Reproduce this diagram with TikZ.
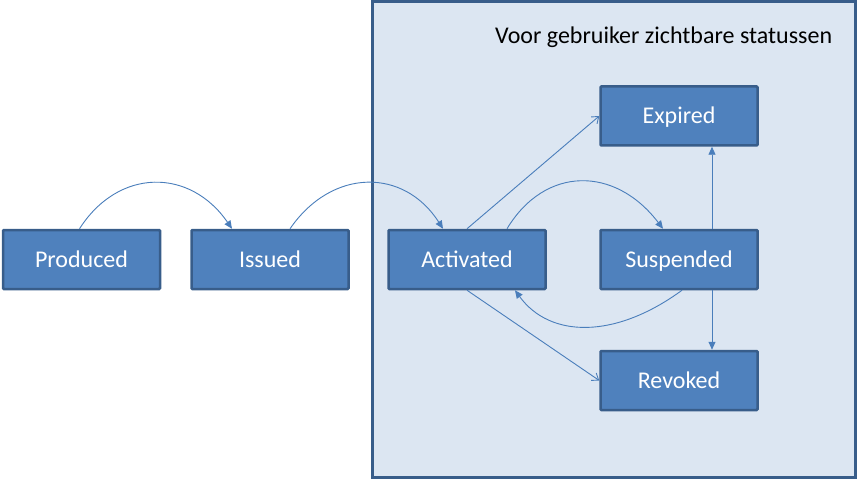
\documentclass[tikz,border=0pt]{standalone}
\usepackage{fontspec}
\setmainfont{Carlito}
\usetikzlibrary{arrows.meta}
\definecolor{boxfill}{HTML}{4F81BD}
\definecolor{boxline}{HTML}{385D8A}
\definecolor{groupfill}{HTML}{DCE6F2}
\definecolor{arrowcol}{HTML}{4A7EBB}
\tikzset{
  statebox/.style={draw=boxline, fill=boxfill, line width=2.5pt, rounded corners=1pt,
    minimum width=157pt, minimum height=59pt, inner sep=0pt, text=white,
    text height=15.5pt, text depth=0pt,
    font=\fontsize{24}{28}\selectfont},
  groupbox/.style={draw=boxline, fill=groupfill, line width=3pt, inner sep=0pt,
    minimum width=483pt, minimum height=475pt},
  conn/.style={draw=arrowcol, line width=0.9pt},
  solidtip/.style={conn, -{Triangle[length=8pt,width=7pt]}},
  opentip/.style={conn, -{Straight Barb[length=6pt,width=9pt]}},
}
\begin{document}
\begin{tikzpicture}[x=1pt,y=-1pt]
\useasboundingbox (0,0) rectangle (859,481);
\node[groupbox] (group) at (613.5,239.5) {};
\node[font=\fontsize{24}{28}\selectfont, anchor=base west, inner sep=0pt] (title) at (495,44) {Voor gebruiker zichtbare statussen};
\node[statebox] (prod) at (81.5,259.5) {Produced};
\node[statebox] (iss) at (270,259.5) {Issued};
\node[statebox] (act) at (467,259.5) {Activated};
\node[statebox] (susp) at (679,259.5) {Suspended};
\node[statebox] (exp) at (679,116) {Expired};
\node[statebox] (rev) at (679,380.5) {Revoked};
\draw[solidtip] ([xshift=-2pt]prod.north) .. controls +(39,-61) and +(-42,-61) .. ([xshift=-38pt]iss.north);
\draw[solidtip] ([xshift=20pt]iss.north) .. controls +(42,-61) and +(-39,-61) .. ([xshift=-24pt]act.north);
\draw[solidtip] ([xshift=40pt]act.north) .. controls +(38,-63) and +(-48,-63) .. ([xshift=-16pt]susp.north);
\draw[solidtip] ([xshift=3pt]susp.south) .. controls +(-67,49) and +(35,48) .. ([xshift=48pt]act.south);
\draw[opentip] (act.north) -- (exp.west);
\draw[opentip] (act.south) -- (rev.west);
\draw[solidtip] ([xshift=33pt]susp.north) -- ([xshift=33pt]exp.south);
\draw[solidtip] ([xshift=33pt]susp.south) -- ([xshift=33pt]rev.north);
\end{tikzpicture}
\end{document}
